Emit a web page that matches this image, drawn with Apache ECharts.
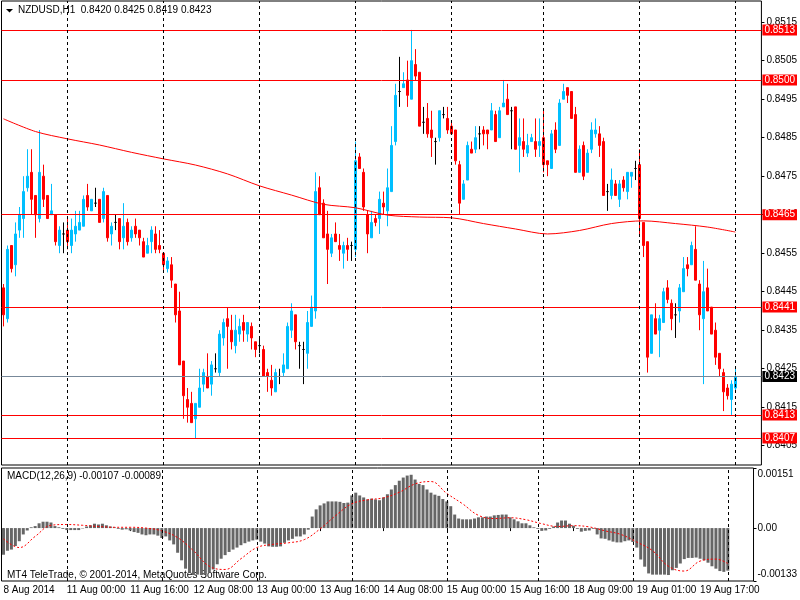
<!DOCTYPE html>
<html><head><meta charset="utf-8">
<script src="https://cdn.jsdelivr.net/npm/echarts@6/dist/echarts.min.js"></script>
<style>html,body{margin:0;padding:0;background:#fff}#c{width:800px;height:600px}</style>
</head><body><div id="c"></div>
<script>
const symbol = 'NZDUSD', timeframe = 'H1';
const opens = [
0.8446,0.8438,0.8457,0.8452,0.8461,0.8464,0.8472,0.8476,0.8470,0.8464,
0.8475,0.8470,0.8465,0.8465,0.8457,0.8460,0.8461,0.8457,0.8460,0.8461,
0.8462,0.8470,0.8466,0.8468,0.8469,0.8464,0.8470,0.8460,0.8463,0.8464,
0.8459,0.8463,0.8459,0.8462,0.8461,0.8458,0.8455,0.8458,0.8460,0.8457,
0.8455,0.8451,0.8452,0.8447,0.8440,0.8427,0.8417,0.8416,0.8412,0.8415,
0.8421,0.8423,0.8421,0.8425,0.8424,0.8433,0.8438,0.8435,0.8431,0.8434,
0.8437,0.8434,0.8436,0.8432,0.8431,0.8430,0.8424,0.8422,0.8419,0.8423,
0.8424,0.8425,0.8435,0.8439,0.8431,0.8430,0.8429,0.8436,0.8440,0.8472,
0.8468,0.8460,0.8455,0.8460,0.8457,0.8455,0.8457,0.8457,0.8456,0.8480,
0.8476,0.8465,0.8459,0.8464,0.8464,0.8468,0.8466,0.8471,0.8484,0.8497,
0.8498,0.8500,0.8495,0.8504,0.8502,0.8489,0.8490,0.8487,0.8484,0.8485,
0.8491,0.8490,0.8488,0.8487,0.8478,0.8469,0.8474,0.8482,0.8482,0.8486,
0.8487,0.8487,0.8487,0.8491,0.8485,0.8493,0.8495,0.8492,0.8493,0.8483,
0.8484,0.8481,0.8484,0.8484,0.8483,0.8485,0.8479,0.8477,0.8487,0.8483,
0.8495,0.8498,0.8497,0.8491,0.8476,0.8483,0.8476,0.8482,0.8486,0.8486,
0.8484,0.8471,0.8470,0.8473,0.8469,0.8474,0.8471,0.8475,0.8477,0.8478,
0.8463,0.8458,0.8429,0.8438,0.8435,0.8437,0.8446,0.8442,0.8439,0.8440,
0.8445,0.8452,0.8452,0.8456,0.8447,0.8438,0.8446,0.8441,0.8435,0.8429,
0.8424,0.8420,0.8417,0.8420];
const closes = [
0.8439,0.8456,0.8451,0.8460,0.8465,0.8471,0.8475,0.8469,0.8465,0.8476,
0.8469,0.8464,0.8466,0.8458,0.8461,0.8460,0.8458,0.8461,0.8462,0.8463,
0.8469,0.8467,0.8469,0.8468,0.8463,0.8471,0.8459,0.8462,0.8463,0.8458,
0.8462,0.8458,0.8461,0.8460,0.8459,0.8454,0.8457,0.8461,0.8456,0.8456,
0.8452,0.8453,0.8448,0.8439,0.8426,0.8418,0.8415,0.8411,0.8416,0.8420,
0.8424,0.8420,0.8426,0.8425,0.8434,0.8437,0.8436,0.8432,0.8435,0.8436,
0.8435,0.8437,0.8433,0.8430,0.8431,0.8423,0.8423,0.8420,0.8424,0.8423,
0.8426,0.8436,0.8440,0.8432,0.8431,0.8430,0.8437,0.8441,0.8471,0.8465,
0.8459,0.8456,0.8459,0.8458,0.8456,0.8457,0.8456,0.8457,0.8479,0.8477,
0.8467,0.8460,0.8463,0.8463,0.8469,0.8467,0.8472,0.8483,0.8496,0.8497,
0.8499,0.8496,0.8505,0.8501,0.8488,0.8489,0.8486,0.8485,0.8484,0.8492,
0.8491,0.8487,0.8486,0.8479,0.8468,0.8473,0.8483,0.8481,0.8485,0.8486,
0.8486,0.8486,0.8492,0.8484,0.8492,0.8494,0.8491,0.8492,0.8482,0.8485,
0.8482,0.8483,0.8485,0.8482,0.8484,0.8478,0.8478,0.8486,0.8482,0.8494,
0.8497,0.8496,0.8490,0.8476,0.8482,0.8475,0.8481,0.8487,0.8487,0.8483,
0.8470,0.8471,0.8474,0.8470,0.8473,0.8472,0.8476,0.8476,0.8477,0.8464,
0.8457,0.8428,0.8439,0.8434,0.8438,0.8445,0.8443,0.8438,0.8439,0.8446,
0.8451,0.8451,0.8457,0.8448,0.8439,0.8445,0.8440,0.8434,0.8428,0.8425,
0.8419,0.8418,0.8421,0.8423];
const highs = [
0.8447,0.8457,0.8457,0.8463,0.8467,0.8475,0.8482,0.8482,0.8470,0.8487,
0.8478,0.8470,0.8473,0.8465,0.8462,0.8463,0.8464,0.8464,0.8466,0.8466,
0.8470,0.8473,0.8469,0.8472,0.8469,0.8472,0.8470,0.8463,0.8465,0.8464,
0.8468,0.8464,0.8462,0.8464,0.8461,0.8459,0.8459,0.8462,0.8462,0.8461,
0.8455,0.8454,0.8454,0.8447,0.8445,0.8427,0.8420,0.8419,0.8416,0.8425,
0.8425,0.8429,0.8427,0.8429,0.8435,0.8438,0.8441,0.8439,0.8439,0.8438,
0.8439,0.8437,0.8437,0.8432,0.8433,0.8431,0.8425,0.8426,0.8425,0.8425,
0.8429,0.8437,0.8442,0.8439,0.8432,0.8432,0.8440,0.8444,0.8476,0.8475,
0.8469,0.8466,0.8460,0.8463,0.8460,0.8458,0.8459,0.8458,0.8484,0.8481,
0.8477,0.8466,0.8466,0.8465,0.8471,0.8471,0.8477,0.8488,0.8499,0.8506,
0.8502,0.8505,0.8513,0.8508,0.8502,0.8493,0.8494,0.8492,0.8485,0.8492,
0.8493,0.8493,0.8489,0.8487,0.8479,0.8474,0.8484,0.8484,0.8488,0.8488,
0.8488,0.8487,0.8494,0.8492,0.8493,0.8500,0.8499,0.8493,0.8493,0.8490,
0.8490,0.8486,0.8486,0.8490,0.8490,0.8492,0.8479,0.8487,0.8489,0.8495,
0.8499,0.8498,0.8497,0.8493,0.8483,0.8484,0.8482,0.8489,0.8490,0.8488,
0.8485,0.8473,0.8477,0.8474,0.8474,0.8475,0.8476,0.8476,0.8479,0.8482,
0.8463,0.8458,0.8439,0.8442,0.8439,0.8446,0.8448,0.8443,0.8442,0.8447,
0.8454,0.8454,0.8458,0.8462,0.8448,0.8453,0.8451,0.8441,0.8437,0.8429,
0.8425,0.8421,0.8422,0.8425];
const lows = [
0.8436,0.8437,0.8450,0.8449,0.8459,0.8459,0.8471,0.8465,0.8459,0.8463,
0.8467,0.8464,0.8465,0.8457,0.8455,0.8455,0.8456,0.8455,0.8458,0.8461,
0.8462,0.8466,0.8466,0.8467,0.8463,0.8463,0.8458,0.8457,0.8461,0.8456,
0.8456,0.8457,0.8458,0.8459,0.8457,0.8454,0.8455,0.8455,0.8455,0.8455,
0.8450,0.8450,0.8446,0.8437,0.8426,0.8412,0.8411,0.8411,0.8407,0.8415,
0.8419,0.8420,0.8418,0.8424,0.8423,0.8431,0.8425,0.8430,0.8429,0.8432,
0.8432,0.8432,0.8430,0.8428,0.8429,0.8423,0.8419,0.8418,0.8419,0.8421,
0.8423,0.8425,0.8433,0.8430,0.8425,0.8421,0.8425,0.8436,0.8438,0.8465,
0.8459,0.8447,0.8454,0.8458,0.8453,0.8451,0.8453,0.8453,0.8454,0.8477,
0.8466,0.8455,0.8459,0.8462,0.8460,0.8465,0.8462,0.8471,0.8483,0.8493,
0.8498,0.8493,0.8495,0.8500,0.8488,0.8486,0.8485,0.8480,0.8478,0.8484,
0.8490,0.8486,0.8486,0.8478,0.8465,0.8469,0.8474,0.8481,0.8481,0.8482,
0.8483,0.8482,0.8487,0.8484,0.8485,0.8493,0.8491,0.8482,0.8482,0.8476,
0.8480,0.8480,0.8484,0.8480,0.8480,0.8476,0.8475,0.8477,0.8481,0.8483,
0.8495,0.8494,0.8490,0.8476,0.8476,0.8474,0.8476,0.8481,0.8485,0.8480,
0.8470,0.8466,0.8469,0.8470,0.8467,0.8471,0.8469,0.8472,0.8474,0.8460,
0.8454,0.8424,0.8429,0.8434,0.8428,0.8437,0.8442,0.8435,0.8433,0.8437,
0.8445,0.8449,0.8452,0.8448,0.8435,0.8421,0.8440,0.8434,0.8426,0.8423,
0.8414,0.8417,0.8413,0.8419];

const tickIndex = [0,16,32,48,64,80,96,112,128,144,160,176];
const tickLabels = ['8 Aug 2014','11 Aug 00:00','11 Aug 16:00','12 Aug 08:00','13 Aug 00:00','13 Aug 16:00',
  '14 Aug 08:00','15 Aug 00:00','15 Aug 16:00','18 Aug 09:00','19 Aug 01:00','19 Aug 17:00'];
const separatorIndex = [16,40,64,88,112,135,159,183];
const levelLines = [0.8513,0.8500,0.8465,0.8441,0.8413,0.8407];
const bidPrice = 0.8423;
const priceTicks = [0.8405,0.8415,0.8425,0.8435,0.8445,0.8455,0.8465,0.8475,0.8485,0.8495,0.8505,0.8515];
const maPoints = [[0,0.84899],[8,0.84866],[16,0.84847],[24,0.84831],[32,0.84812],[40,0.84795],[48,0.84779],
  [56,0.84756],[64,0.84725],[72,0.84701],[80,0.84677],[88,0.84668],[96,0.84649],[104,0.84644],[112,0.84642],
  [120,0.84627],[128,0.84613],[136,0.84600],[144,0.84609],[152,0.84627],[160,0.84634],[168,0.84627],
  [176,0.84618],[183,0.84605]];
const macdHist = [
-0.00067,-0.00057,-0.00054,-0.00045,-0.00033,-0.00016,-0.00006,0.00002,0.00005,0.00012,
0.00016,0.00016,0.00014,0.00005,0.00002,-0.00002,-0.00005,-0.00005,-0.00005,-0.00005,
-0.00001,0.00004,0.00007,0.00011,0.00009,0.00011,0.00007,0.00004,0.00002,-0.00002,
-0.00004,-0.00003,-0.00006,-0.00010,-0.00012,-0.00016,-0.00018,-0.00016,-0.00016,-0.00019,
-0.00025,-0.00021,-0.00031,-0.00041,-0.00062,-0.00081,-0.00102,-0.00112,-0.00118,-0.00117,
-0.00118,-0.00117,-0.00112,-0.00104,-0.00091,-0.00077,-0.00068,-0.00060,-0.00054,-0.00049,
-0.00043,-0.00038,-0.00034,-0.00031,-0.00029,-0.00034,-0.00039,-0.00046,-0.00047,-0.00047,
-0.00046,-0.00037,-0.00031,-0.00027,-0.00021,-0.00021,-0.00016,-0.00004,0.00029,0.00047,
0.00057,0.00062,0.00067,0.00067,0.00067,0.00066,0.00063,0.00064,0.00082,0.00089,
0.00082,0.00077,0.00072,0.00074,0.00072,0.00070,0.00077,0.00085,0.00097,0.00108,
0.00119,0.00127,0.00132,0.00134,0.00122,0.00111,0.00108,0.00097,0.00089,0.00084,
0.00081,0.00073,0.00067,0.00055,0.00034,0.00024,0.00022,0.00022,0.00022,0.00024,
0.00027,0.00027,0.00029,0.00029,0.00032,0.00033,0.00034,0.00034,0.00027,0.00022,
0.00017,0.00012,0.00012,0.00007,0.00002,-0.00002,-0.00007,-0.00006,-0.00002,0.00004,
0.00014,0.00019,0.00019,0.00011,0.00006,-0.00002,-0.00009,-0.00007,-0.00006,-0.00002,
-0.00016,-0.00026,-0.00027,-0.00031,-0.00034,-0.00036,-0.00036,-0.00033,-0.00031,-0.00035,
-0.00049,-0.00079,-0.00097,-0.00114,-0.00117,-0.00117,-0.00117,-0.00117,-0.00118,-0.00106,
-0.00100,-0.00089,-0.00078,-0.00075,-0.00075,-0.00074,-0.00077,-0.00081,-0.00087,-0.00096,
-0.00102,-0.00108,-0.00110,-0.00107];
const macdSignalPoints = [[0,-0.00027],[4,-0.00049],[8,-0.00021],[12,0.00007],[16,0.00009],[20,0.00007],
  [24,0.00004],[28,0.00002],[32,0.00002],[36,0.0],[40,-0.00007],[44,-0.00024],[48,-0.00057],[52,-0.00096],
  [56,-0.00104],[60,-0.00077],[64,-0.00049],[68,-0.00041],[72,-0.00037],[76,-0.00029],[80,-0.00002],
  [84,0.00032],[88,0.00061],[92,0.00071],[96,0.00076],[100,0.00090],[104,0.00111],[108,0.00117],
  [112,0.00087],[116,0.00061],[120,0.00032],[124,0.00024],[128,0.00026],[132,0.00021],[136,0.00011],
  [140,0.00004],[144,0.00006],[148,0.00003],[152,-0.00007],[156,-0.00016],[160,-0.00035],[164,-0.00057],
  [168,-0.00096],[172,-0.00108],[176,-0.00083],[180,-0.00078],[183,-0.00089]];
const macdTicks = [0.00151, 0, -0.00133];
const macdName = 'MACD(12,26,9)';
const copyright = 'MT4 TeleTrade, \u00a9 2001-2014, MetaQuotes Software Corp.';
const SLOTS = 190;

const FONT = 'Liberation Sans';
const categories = [];
for (let i = 0; i < SLOTS; i++) {
  const k = tickIndex.indexOf(i);
  categories.push(k >= 0 ? tickLabels[k] : '');
}
const candles = opens.map((o, i) => [o, closes[i], lows[i], highs[i]]);
const last = opens.length - 1;
const titleText = symbol + ',' + timeframe + '  ' + [opens[last], highs[last], lows[last], closes[last]].map(v => v.toFixed(4)).join(' ');
const sigLast = macdSignalPoints[macdSignalPoints.length - 1][1];
const macdText = macdName + ' ' + macdHist[last].toFixed(5) + ' ' + sigLast.toFixed(5);

const isTick = (idx) => tickIndex.indexOf(idx) >= 0;
const sepStyle = { color: '#000', type: [3, 3], width: 1 };
const sepLines = separatorIndex.map(i => ({ xAxis: i, lineStyle: sepStyle, label: { show: false } }));
const levelData = levelLines.map(v => ({ yAxis: v, lineStyle: { color: '#ff0000', type: 'solid', width: 1 },
  label: { show: true, backgroundColor: '#ff0000' } }));
levelData.push({ yAxis: bidPrice, lineStyle: { color: '#778899', type: 'solid', width: 1 },
  label: { show: true, backgroundColor: '#000000' } });

const chart = echarts.init(document.getElementById('c'), null, { renderer: 'canvas' });
chart.setOption({
  animation: false,
  backgroundColor: '#ffffff',
  textStyle: { fontFamily: FONT },
  grid: [
    { left: 1.5, right: 38.5, top: 1, bottom: 135, show: true, borderColor: '#000', borderWidth: 1, backgroundColor: 'transparent' },
    { left: 1.5, right: 38.5, top: 468, height: 113, show: true, borderColor: '#000', borderWidth: 1, backgroundColor: 'transparent' }
  ],
  xAxis: [
    { type: 'category', gridIndex: 0, data: categories, boundaryGap: true,
      axisLine: { show: false }, axisTick: { show: false }, axisLabel: { show: false }, splitLine: { show: false } },
    { type: 'category', gridIndex: 1, data: categories, boundaryGap: true,
      axisLine: { show: false },
      axisTick: { show: true, interval: isTick, alignWithLabel: true, length: 3, lineStyle: { color: '#000' } },
      axisLabel: { show: true, interval: isTick, align: 'left', margin: 4, fontSize: 10, color: '#000', fontFamily: FONT },
      splitLine: { show: false } }
  ],
  yAxis: [
    { type: 'value', gridIndex: 0, position: 'right', min: 0.8400, max: 0.85205, scale: true,
      axisLine: { show: false }, splitLine: { show: false },
      axisTick: { show: true, customValues: priceTicks, length: 3, lineStyle: { color: '#000' } },
      axisLabel: { show: true, customValues: priceTicks, margin: 5, fontSize: 10, color: '#000', fontFamily: FONT,
        formatter: v => v.toFixed(4) } },
    { type: 'value', gridIndex: 1, position: 'right', min: -0.00133, max: 0.00151,
      axisLine: { show: false }, splitLine: { show: false },
      axisTick: { show: true, customValues: macdTicks, length: 3, lineStyle: { color: '#000' } },
      axisLabel: { show: true, customValues: macdTicks, margin: 4, fontSize: 10, color: '#000', fontFamily: FONT,
        formatter: v => v === 0 ? '0.00' : (v > 0 ? '{t|' + v.toFixed(5) + '}' : '{b|' + v.toFixed(5) + '}'),
        rich: { t: { padding: [13, 0, 0, 0], fontSize: 10, color: '#000', fontFamily: FONT },
                b: { padding: [0, 0, 13, 0], fontSize: 10, color: '#000', fontFamily: FONT } } } }
  ],
  series: [
    { type: 'line', xAxisIndex: 0, yAxisIndex: 0, data: maPoints, symbol: 'none', smooth: 0.3,
      lineStyle: { color: '#ff0000', width: 1 }, z: 4, silent: true,
      markLine: { silent: true, symbol: ['none', 'none'], animation: false, precision: 4,
        label: { show: true, position: 'end', distance: 1, color: '#fff', fontSize: 10, fontFamily: FONT,
          padding: [1, 2, 0, 2], formatter: p => Number(p.value).toFixed(4) },
        data: levelData.concat(sepLines) } },
    { type: 'candlestick', xAxisIndex: 0, yAxisIndex: 0, data: candles, barWidth: 2, z: 3,
      itemStyle: { color: '#00bfff', color0: '#ff0000', borderColor: '#00bfff', borderColor0: '#ff0000',
        borderColorDoji: '#000000', borderWidth: 1 } },
    { type: 'bar', xAxisIndex: 1, yAxisIndex: 1, data: macdHist, barWidth: 3, itemStyle: { color: '#666666' }, silent: true,
      markLine: { silent: true, symbol: ['none', 'none'], animation: false, label: { show: false },
        lineStyle: sepStyle, data: sepLines } },
    { type: 'line', xAxisIndex: 1, yAxisIndex: 1, data: macdSignalPoints, symbol: 'none', smooth: 0.4,
      lineStyle: { color: '#ff0000', width: 1, type: [2, 2] }, z: 4, silent: true }
  ],
  graphic: [
    { type: 'polygon', shape: { points: [[6, 9], [13, 9], [9.5, 12.5]] }, style: { fill: '#000' } },
    { type: 'text', left: 18, top: 5, style: { text: titleText, fill: '#000', font: '10px "' + FONT + '"' } },
    { type: 'text', left: 7, top: 471, style: { text: macdText, fill: '#000', font: '10px "' + FONT + '"' } },
    { type: 'text', left: 7, top: 570, style: { text: copyright, fill: '#000', font: '10px "' + FONT + '"' } }
  ]
});
</script></body></html>
